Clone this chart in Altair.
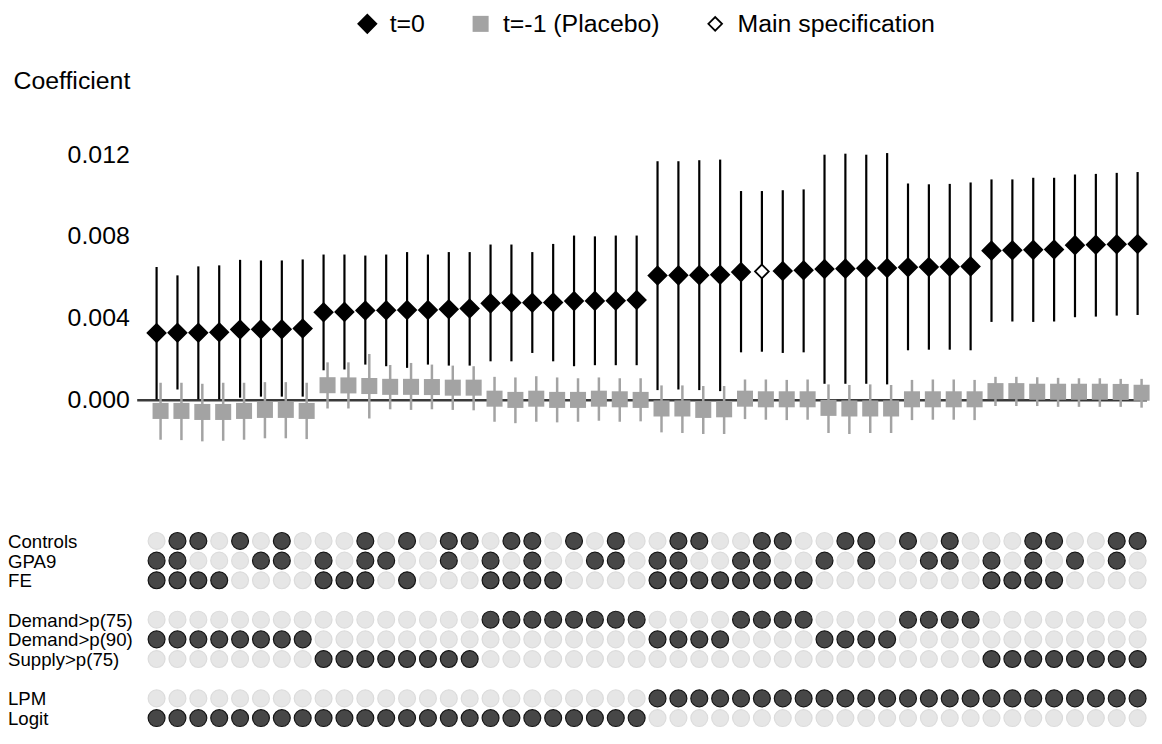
import altair as alt
import pandas as pd

# ------------------------------------------------------------------
# Data (coefficients in units of 0.001)
# ------------------------------------------------------------------
UNIT = 0.001
n_specs = 48
main_spec = 30  # specification drawn as hollow diamond

t0_est = [3.30, 3.31, 3.31, 3.33, 3.47, 3.48, 3.48, 3.52,
          4.31, 4.33, 4.40, 4.41, 4.42, 4.42, 4.46, 4.50,
          4.75, 4.78, 4.78, 4.79, 4.86, 4.87, 4.88, 4.91,
          6.11, 6.12, 6.13, 6.15, 6.28, 6.31, 6.33, 6.37,
          6.43, 6.45, 6.47, 6.48, 6.52, 6.53, 6.54, 6.56,
          7.33, 7.35, 7.37, 7.39, 7.60, 7.62, 7.64, 7.66]
t0_hi = [6.53, 6.12, 6.56, 6.61, 6.88, 6.85, 6.85, 6.90,
         7.14, 7.14, 7.09, 7.14, 7.26, 7.14, 7.26, 7.26,
         7.63, 7.63, 7.26, 7.66, 8.07, 8.03, 8.07, 8.07,
         11.71, 11.71, 11.76, 11.79, 10.25, 10.25, 10.29, 10.33,
         12.03, 12.08, 12.03, 12.11, 10.62, 10.58, 10.60, 10.67,
         10.82, 10.82, 10.90, 10.90, 11.06, 11.09, 11.14, 11.18]
t0_lo = [0.05, 0.53, 0.05, 0.05, 0.13, 0.18, 0.18, 0.18,
         1.47, 1.51, 1.75, 1.67, 1.59, 1.75, 1.70, 1.70,
         1.91, 1.91, 2.32, 1.91, 1.67, 1.72, 1.72, 1.72,
         0.50, 0.53, 0.50, 0.45, 2.35, 2.38, 2.32, 2.35,
         0.81, 0.81, 0.81, 0.78, 2.45, 2.48, 2.48, 2.45,
         3.84, 3.86, 3.84, 3.86, 4.07, 4.10, 4.15, 4.18]

pl_est = [-0.52, -0.52, -0.57, -0.57, -0.52, -0.47, -0.47, -0.52,
          0.74, 0.73, 0.70, 0.66, 0.66, 0.65, 0.62, 0.62,
          0.08, 0.02, 0.08, 0.02, 0.02, 0.08, 0.05, 0.02,
          -0.40, -0.40, -0.47, -0.44, 0.08, 0.05, 0.05, 0.05,
          -0.37, -0.40, -0.40, -0.40, 0.05, 0.05, 0.05, 0.05,
          0.45, 0.45, 0.42, 0.42, 0.42, 0.42, 0.41, 0.37]
pl_hi = [0.86, 0.86, 0.81, 0.86, 0.86, 0.89, 0.89, 0.86,
         1.86, 1.86, 2.27, 1.73, 1.83, 1.75, 1.70, 1.67,
         1.15, 1.12, 1.18, 1.12, 1.08, 1.12, 1.08, 1.08,
         0.73, 0.73, 0.70, 0.70, 1.02, 1.02, 1.00, 1.02,
         0.78, 0.75, 0.78, 0.75, 1.00, 1.02, 1.02, 1.00,
         1.15, 1.15, 1.13, 1.10, 1.08, 1.08, 1.05, 1.05]
pl_lo = [-1.93, -1.95, -2.01, -1.98, -1.93, -1.86, -1.86, -1.90,
         -0.40, -0.40, -0.89, -0.44, -0.47, -0.44, -0.47, -0.49,
         -1.05, -1.12, -1.05, -1.08, -1.05, -1.00, -1.05, -1.03,
         -1.57, -1.60, -1.65, -1.65, -0.92, -0.95, -0.97, -0.95,
         -1.60, -1.65, -1.60, -1.60, -0.97, -0.95, -0.95, -0.97,
         -0.28, -0.28, -0.28, -0.32, -0.32, -0.32, -0.32, -0.36]

# specification indicator matrix (1 = included)
row_names = ["Controls", "GPA9", "FE", "Demand>p(75)", "Demand>p(90)",
             "Supply>p(75)", "LPM", "Logit"]
controls = [0,1,1,0,1,0,1,0, 0,0,1,0,1,0,1,1, 0,1,1,0,1,0,1,0,
            0,1,1,0,0,1,1,0, 0,1,1,0,1,0,1,0, 0,0,1,1,0,0,1,1]
gpa9     = [1,1,0,0,0,1,1,0, 1,0,1,1,0,0,1,0, 1,0,1,0,0,1,1,0,
            1,1,0,0,1,1,0,0, 1,0,1,0,0,1,1,0, 1,0,1,0,1,0,1,0]
fe       = [1,1,1,1,0,0,0,0, 1,1,1,0,1,0,0,0, 1,1,1,1,0,0,0,0,
            1,1,1,1,1,1,1,1, 0,0,0,0,0,0,0,0, 1,1,1,1,0,0,0,0]
demand75 = [0,0,0,0,0,0,0,0, 0,0,0,0,0,0,0,0, 1,1,1,1,1,1,1,1,
            0,0,0,0,1,1,1,1, 0,0,0,0,1,1,1,1, 0,0,0,0,0,0,0,0]
demand90 = [1,1,1,1,1,1,1,1, 0,0,0,0,0,0,0,0, 0,0,0,0,0,0,0,0,
            1,1,1,1,0,0,0,0, 1,1,1,1,0,0,0,0, 0,0,0,0,0,0,0,0]
supply75 = [0,0,0,0,0,0,0,0, 1,1,1,1,1,1,1,1, 0,0,0,0,0,0,0,0,
            0,0,0,0,0,0,0,0, 0,0,0,0,0,0,0,0, 1,1,1,1,1,1,1,1]
lpm      = [0,0,0,0,0,0,0,0, 0,0,0,0,0,0,0,0, 0,0,0,0,0,0,0,0,
            1,1,1,1,1,1,1,1, 1,1,1,1,1,1,1,1, 1,1,1,1,1,1,1,1]
logit    = [1,1,1,1,1,1,1,1, 1,1,1,1,1,1,1,1, 1,1,1,1,1,1,1,1,
            0,0,0,0,0,0,0,0, 0,0,0,0,0,0,0,0, 0,0,0,0,0,0,0,0]
matrix_rows = [controls, gpa9, fe, demand75, demand90, supply75, lpm, logit]

series_domain = ["t=0", "t=-1 (Placebo)", "Main specification"]

# ------------------------------------------------------------------
# Tables
# ------------------------------------------------------------------
spec = list(range(1, n_specs + 1))
t0_df = pd.DataFrame({
    "spec": spec,
    "est": [v * UNIT for v in t0_est],
    "lo": [v * UNIT for v in t0_lo],
    "hi": [v * UNIT for v in t0_hi],
    "series": ["Main specification" if s == main_spec else "t=0" for s in spec],
})
pl_df = pd.DataFrame({
    "spec": spec,
    "est": [v * UNIT for v in pl_est],
    "lo": [v * UNIT for v in pl_lo],
    "hi": [v * UNIT for v in pl_hi],
    "series": ["t=-1 (Placebo)"] * n_specs,
})
mat_records = []
for name, vals in zip(row_names, matrix_rows):
    for s, v in zip(spec, vals):
        mat_records.append({"row": name, "spec": s, "on": v})
mat_df = pd.DataFrame(mat_records)
lab_df = pd.DataFrame({"row": row_names})
ref_df = pd.DataFrame({"ref": [0.0]})

# ------------------------------------------------------------------
# Layout / styling
# ------------------------------------------------------------------
PLOT_W, PLOT_H = 1012, 630
FONT = "Liberation Sans"
GRAY = "#a3a3a3"

x_scale = alt.Scale(domain=[0.1667, 48.357], nice=False, zero=False)
px_per_unit = (300.5 - 54.0) / 0.012
y_scale = alt.Scale(domain=[-(PLOT_H - 300.5) / px_per_unit, 300.5 / px_per_unit],
                    nice=False, zero=False)
y_axis = alt.Axis(values=[0.0, 0.004, 0.008, 0.012], format=".3f",
                  title="Coefficient", titleAngle=0, titleAlign="left",
                  titleBaseline="middle", titleX=-127, titleY=-21,
                  titleFontSize=25, titleFontWeight="normal", titleColor="black",
                  labelFontSize=25, labelColor="black", labelPadding=10,
                  labelOffset=-1, ticks=False, domain=False, grid=False)
row_domain = ["Controls", "GPA9", "FE", " ", "Demand>p(75)", "Demand>p(90)",
              "Supply>p(75)", "  ", "LPM", "Logit"]
row_scale = alt.Scale(type="point", domain=row_domain, range=[442, 620.2], padding=0)

legend = alt.Legend(title=None, orient="none", legendX=217, legendY=-91,
                    direction="horizontal", labelFontSize=25, labelColor="black",
                    labelFont=FONT, labelLimit=400, padding=0, columnPadding=43,
                    labelOffset=10, symbolStrokeWidth=1.8)
fill_enc = alt.Fill("series:N", scale=alt.Scale(domain=series_domain,
                    range=["black", GRAY, "white"]), legend=legend)
stroke_enc = alt.Stroke("series:N", scale=alt.Scale(domain=series_domain,
                        range=["black", "transparent", "black"]), legend=legend)
shape_enc = alt.Shape("series:N", scale=alt.Scale(domain=series_domain,
                      range=["diamond", "square", "diamond"]), legend=legend)
size_enc = alt.Size("series:N", scale=alt.Scale(domain=series_domain,
                    range=[330, 190, 280]), legend=legend)

x_enc = alt.X("spec:Q", scale=x_scale, axis=None)

zero_rule = alt.Chart(ref_df).mark_rule(color="#3a3a3a", strokeWidth=2.5).encode(
    x=alt.value(-2), x2=alt.value(PLOT_W + 2),
    y=alt.Y("ref:Q", scale=y_scale, axis=y_axis))

ci_t0 = alt.Chart(t0_df).mark_rule(color="black", strokeWidth=2.2).encode(
    x=x_enc, y=alt.Y("lo:Q", scale=y_scale, axis=y_axis), y2="hi:Q")

ci_pl = alt.Chart(pl_df).mark_rule(color=GRAY, strokeWidth=2.5, xOffset=4).encode(
    x=x_enc, y=alt.Y("lo:Q", scale=y_scale, axis=y_axis), y2="hi:Q")

pts_pl = alt.Chart(pl_df).mark_point(filled=True, opacity=1, strokeWidth=1.8,
                                     xOffset=4).encode(
    x=x_enc, y=alt.Y("est:Q", scale=y_scale, axis=y_axis),
    fill=fill_enc, stroke=stroke_enc, shape=shape_enc, size=size_enc)

pts_t0 = alt.Chart(t0_df).mark_point(filled=True, opacity=1, strokeWidth=1.8).encode(
    x=x_enc, y=alt.Y("est:Q", scale=y_scale, axis=y_axis),
    fill=fill_enc, stroke=stroke_enc, shape=shape_enc, size=size_enc)

coef = alt.layer(zero_rule, ci_t0, ci_pl, pts_pl, pts_t0)

dots = alt.Chart(mat_df).mark_circle(size=289, opacity=1, strokeWidth=1.2).encode(
    x=x_enc,
    y=alt.Y("row:N", scale=row_scale, axis=None),
    fill=alt.condition("datum.on == 1", alt.value("#474747"), alt.value("#e6e6e6")),
    stroke=alt.condition("datum.on == 1", alt.value("#141414"), alt.value("#dcdcdc")))

labels = alt.Chart(lab_df).mark_text(align="left", baseline="middle", fontSize=18.75,
                                     font=FONT, color="black", dy=1).encode(
    x=alt.value(-132),
    y=alt.Y("row:N", scale=row_scale, axis=None),
    text="row:N")

matrix = alt.layer(dots, labels)

chart = alt.layer(coef, matrix).resolve_scale(y="independent").properties(
    width=PLOT_W, height=PLOT_H,
    padding={"left": 0, "top": 1, "right": 0, "bottom": 0},
).configure(font=FONT).configure_view(strokeWidth=0)

chart.save("out.html", embed_options={"renderer": "svg", "actions": False})
